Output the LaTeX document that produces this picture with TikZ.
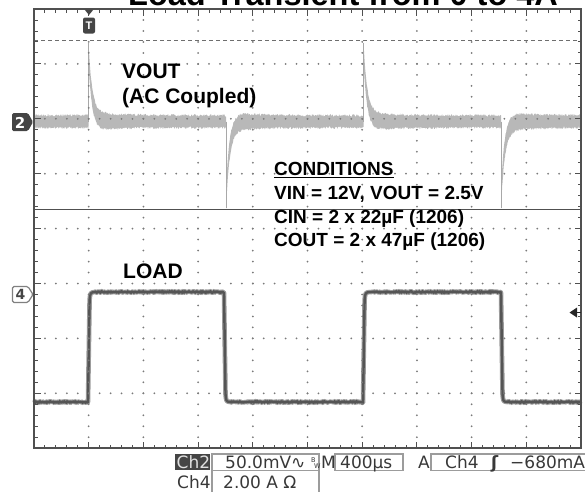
\documentclass[tikz,border=0pt]{standalone}
\usepackage{fontspec}
\setmainfont{Liberation Sans}
\newfontfamily\scopefont{DejaVu Sans}
\definecolor{bordergray}{HTML}{505050}
\definecolor{dotgray}{HTML}{7A7A7A}
\definecolor{dashgray}{HTML}{6E6E6E}
\definecolor{vouttrace}{HTML}{B8B8B8}
\definecolor{voutcore}{HTML}{A8A8A8}
\definecolor{loadtrace}{HTML}{555555}
\definecolor{loadhalo}{HTML}{9C9C9C}
\definecolor{markdark}{HTML}{454545}
\definecolor{markgray}{HTML}{808080}
\definecolor{boxgray}{HTML}{9C9C9C}
\definecolor{readtext}{HTML}{383838}
\begin{document}
\begin{tikzpicture}[x=1pt, y=-1pt,
    lbl/.style={font=\bfseries\fontsize{21}{25}\selectfont, inner sep=0pt, anchor=base west},
    cnd/.style={font=\bfseries\fontsize{19}{23}\selectfont, inner sep=0pt, anchor=base west},
    readout/.style={font=\scopefont\fontsize{17}{20}\selectfont, text=readtext, inner sep=0pt, anchor=base west},
    rbox/.style={draw=boxgray, line width=1.2pt},
    loadline/.style={loadtrace, line width=2.4pt, line join=round, preaction={draw, loadhalo, line width=4.6pt, line join=round}}]
    \useasboundingbox (0,0) rectangle (585,491);
    \pgfmathsetseed{42}
    \pgfmathsetmacro{\gl}{34}
    \pgfmathsetmacro{\gr}{581}
    \pgfmathsetmacro{\gt}{9}
    \pgfmathsetmacro{\gb}{448.2}
    \pgfmathsetmacro{\dx}{54.7}
    \pgfmathsetmacro{\dy}{54.9}

    \node (title) [font=\bfseries\fontsize{32.5}{36}\selectfont, inner sep=0pt, anchor=base west] at (128,5.5) {Load Transient from 0 to 4A};

    % VOUT, AC coupled
    \foreach \ea/\eb/\sg/\am in {34/88.5/0/0, 88.5/226/-1/69, 226/363.5/1/78, 363.5/501/-1/69, 501/581/1/78} {
        \fill[vouttrace] plot[domain=\ea:\eb, samples=260] (\x, {121.5 + \sg*\am*exp(-(\x-\ea)/3.6) - 6 - 3.5*abs(\sg)*exp(-(\x-\ea)/25) - 1.3*rand})
            -- plot[domain=\eb:\ea, samples=260] (\x, {121.5 + \sg*\am*exp(-(\x-\ea)/3.6) + 6 + 3.5*abs(\sg)*exp(-(\x-\ea)/25) + 1.3*rand}) -- cycle;
    }
    \draw[voutcore, line width=1pt] (88.5,121.5) -- (88.5,43);
    \draw[voutcore, line width=1pt] (363.5,121.5) -- (363.5,43);
    \draw[voutcore, line width=1pt] (226,121.5) -- (226,208);
    \draw[voutcore, line width=1pt] (501,121.5) -- (501,208);

    % LOAD
    \draw[loadline] plot[domain=\gl:88, samples=110] (\x, {402+0.8*rand})
        -- (89.6,300) .. controls (90.3,292.5) .. (95,292)
        -- plot[domain=95:224, samples=230] (\x, {292+0.8*rand})
        -- (225.5,394) .. controls (226.2,401.5) .. (230,402)
        -- plot[domain=230:363, samples=240] (\x, {402+0.8*rand})
        -- (364.6,300) .. controls (365.3,292.5) .. (370,292)
        -- plot[domain=370:501, samples=230] (\x, {292+0.8*rand})
        -- (502.5,394) .. controls (503.2,401.5) .. (507,402)
        -- plot[domain=507:\gr, samples=130] (\x, {402+0.8*rand});

    % graticule
    \foreach \i in {1,...,9}
        \foreach \k in {1,...,39}
            \fill[dotgray] ({\gl+\i*\dx}, {\gt+\k*\dy/5}) circle (1pt);
    \foreach \j in {1,...,7}
        \foreach \k in {1,...,49}
            \fill[dotgray] ({\gl+\k*\dx/5}, {\gt+\j*\dy}) circle (1pt);
    \foreach \k in {1,...,49} {
        \draw[bordergray, line width=0.9pt] ({\gl+\k*\dx/5}, \gt) -- ({\gl+\k*\dx/5}, \gt+3.5);
        \draw[bordergray, line width=0.9pt] ({\gl+\k*\dx/5}, \gb) -- ({\gl+\k*\dx/5}, \gb-3.5);
    }
    \foreach \k in {1,...,39} {
        \draw[bordergray, line width=0.9pt] (\gl, {\gt+\k*\dy/5}) -- (\gl+3.5, {\gt+\k*\dy/5});
        \draw[bordergray, line width=0.9pt] (\gr, {\gt+\k*\dy/5}) -- (\gr-3.5, {\gt+\k*\dy/5});
    }
    \foreach \i in {1,...,9} {
        \draw[bordergray, line width=0.9pt] ({\gl+\i*\dx}, \gt) -- ({\gl+\i*\dx}, \gt+6.5);
        \draw[bordergray, line width=0.9pt] ({\gl+\i*\dx}, \gb) -- ({\gl+\i*\dx}, \gb-6.5);
    }
    \foreach \j in {1,...,7} {
        \draw[bordergray, line width=0.9pt] (\gl, {\gt+\j*\dy}) -- (\gl+6.5, {\gt+\j*\dy});
        \draw[bordergray, line width=0.9pt] (\gr, {\gt+\j*\dy}) -- (\gr-6.5, {\gt+\j*\dy});
    }
    \draw[dashgray, line width=1pt, dash pattern=on 4pt off 3pt] (\gl,40) -- (\gr,40);
    \draw[bordergray, line width=1.3pt] (\gl,209.5) -- (\gr,209.5);
    \draw[bordergray, line width=2pt] (\gl,\gt) rectangle (\gr,\gb);

    % markers
    \fill[markdark] (84.5,9.5) -- (93.5,9.5) -- (89,15) -- cycle;
    \fill[markdark, rounded corners=2pt] (83,17.5) rectangle (95,33.5);
    \node (trig) [text=white, font=\bfseries\fontsize{11}{12}\selectfont, inner sep=0pt] at (89,25.5) {T};
    \fill[markdark, rounded corners=1.5pt] (12,113) -- (28,113) -- (33,122) -- (28,131) -- (12,131) -- cycle;
    \node (ch2) [text=white, font=\scopefont\bfseries\fontsize{15}{16}\selectfont, inner sep=0pt] at (20,122.5) {2};
    \draw[fill=white, draw=markgray, line width=1.2pt, rounded corners=1.5pt] (12.5,286.5) -- (28,286.5) -- (33,294.5) -- (28,302.5) -- (12.5,302.5) -- cycle;
    \node (ch4) [text=markdark, font=\scopefont\bfseries\fontsize{14}{15}\selectfont, inner sep=0pt] at (20.5,294.5) {4};
    \fill[black!85] (569.5,312.5) -- (577,307.5) -- (577,317.5) -- cycle;
    \draw[black!85, line width=1.2pt] (577,312.5) -- (\gr,312.5);

    % labels
    \node (vout) [lbl] at (122,78) {VOUT};
    \node (ac) [lbl] at (122,103) {(AC Coupled)};
    \node (load) [lbl] at (123,278) {LOAD};
    \node (cond) [cnd] at (274,175.5) {CONDITIONS};
    \draw[black, line width=1.5pt] ([yshift=-2.2pt]cond.base west) -- ([yshift=-2.2pt]cond.base east);
    \node (vin) [cnd] at (274,199) {VIN = 12V, VOUT = 2.5V};
    \node (cin) [cnd] at (274,223) {CIN = 2 x 22µF (1206)};
    \node (cout) [cnd] at (274,246) {COUT = 2 x 47µF (1206)};

    % readout
    \fill[markdark] (175,454) rectangle (210,469.5);
    \node (r2) [readout, text=white!88!black] at (176.5,468) {Ch2};
    \draw[rbox] (212,454) rectangle (319,470.5);
    \node (volt) [readout] at (225,468) {50.0mV∿};
    \node (bwb) [readout, font=\scopefont\fontsize{6.5}{7}\selectfont] at (311,462) {B};
    \node (bww) [readout, font=\scopefont\fontsize{6.5}{7}\selectfont] at (314,468) {W};
    \node (mm) [readout] at (321,468) {M};
    \draw[rbox] (335,454) rectangle (403,470.5);
    \node (time) [readout] at (340,468) {400µs};
    \node (aa) [readout] at (418,468) {A};
    \draw[rbox] (431,454) rectangle (600,470.5);
    \node (tch) [readout] at (445,468) {Ch4};
    \node (slope) [readout, font=\scopefont\bfseries\fontsize{17}{20}\selectfont] at (491,468) {ʃ};
    \node (lvl) [readout] at (510,468) {−680mA};
    \node (r4) [readout] at (177,488) {Ch4};
    \draw[rbox] (212,470.5) rectangle (319,500);
    \node (amp) [readout] at (223,488) {2.00 A Ω};
\end{tikzpicture}
\end{document}
